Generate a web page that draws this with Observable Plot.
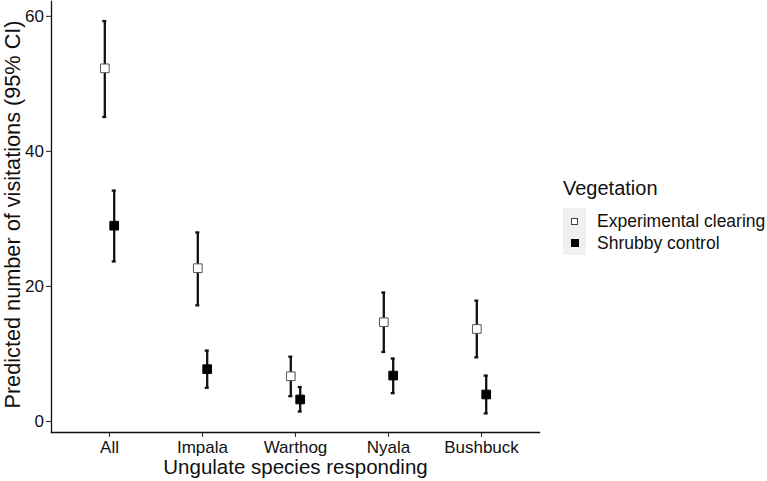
<!DOCTYPE html>
<html><head><meta charset="utf-8">
<script src="https://cdn.jsdelivr.net/npm/d3@7"></script>
<script src="https://cdn.jsdelivr.net/npm/@observablehq/plot@0.6"></script>
<style>
body{margin:0;background:#fff;font-family:"Liberation Sans",Arial,sans-serif;}
#wrap{position:relative;width:767px;height:481px;overflow:hidden;}
#wrap svg{position:absolute;left:0;top:0;}
.lg-title{position:absolute;left:563px;top:176px;font-size:20px;color:#111;white-space:nowrap;line-height:24px;}
.lg-bg{position:absolute;left:563px;top:208px;width:23px;height:47px;background:#f0f0f0;}
.lg-key{position:absolute;box-sizing:border-box;}
.lg-text{position:absolute;left:597px;font-size:17.5px;color:#111;white-space:nowrap;line-height:20px;}
</style></head><body><div id="wrap"></div>
<script>
const species = ["All", "Impala", "Warthog", "Nyala", "Bushbuck"];
const vegetation = ["Experimental clearing", "Shrubby control"];
const clearingMean  = [52.3, 22.7, 6.7, 14.7, 13.7];
const clearingLower = [45.1, 17.2, 3.75, 10.3, 9.5];
const clearingUpper = [59.3, 28.0, 9.6, 19.1, 17.9];
const controlMean   = [29.0, 7.75, 3.26, 6.8, 4.0];
const controlLower  = [23.7, 5.0, 1.48, 4.2, 1.2];
const controlUpper  = [34.2, 10.5, 5.1, 9.33, 6.8];
const yTicks = [0, 20, 40, 60];
const xTitle = "Ungulate species responding";
const yTitle = "Predicted number of visitations (95% CI)";
const legendTitle = "Vegetation";

const clearing = species.map((s, i) => ({species: s, veg: vegetation[0], mean: clearingMean[i], lower: clearingLower[i], upper: clearingUpper[i]}));
const control = species.map((s, i) => ({species: s, veg: vegetation[1], mean: controlMean[i], lower: controlLower[i], upper: controlUpper[i]}));

const dodge = 4.7;
const barW = 2.3;
const ink = "#111";

function series(rows, dx, fill, stroke) {
  return [
    Plot.ruleX(rows, {x: "species", y1: "lower", y2: "upper", dx, stroke: ink, strokeWidth: barW}),
    Plot.tickY(rows, {x: "species", y: "lower", dx, stroke: ink, strokeWidth: barW}),
    Plot.tickY(rows, {x: "species", y: "upper", dx, stroke: ink, strokeWidth: barW}),
    Plot.dot(rows, {x: "species", y: "mean", dx, symbol: "square", r: 4.9, fill, stroke, strokeWidth: 1})
  ];
}

const chart = Plot.plot({
  width: 767,
  height: 481,
  marginLeft: 51,
  marginRight: 228,
  marginTop: 1,
  marginBottom: 49,
  style: {fontFamily: "'Liberation Sans', Arial, sans-serif", color: ink, background: "white"},
  x: {type: "band", domain: species, paddingInner: 0.957, paddingOuter: 0.578, axis: null},
  y: {domain: [-1.63, 62.2], axis: null},
  marks: [
    Plot.axisY({ticks: yTicks, tickSize: 5, tickPadding: 2.5, fontSize: 17, label: null, stroke: "#333", strokeWidth: 1.1, fill: ink}),
    Plot.axisX({tickSize: 5, tickPadding: 3, fontSize: 17, label: null, stroke: "#333", strokeWidth: 1.1, fill: ink}),
    Plot.frame({anchor: "left", stroke: ink, strokeWidth: 1.3}),
    Plot.frame({anchor: "bottom", stroke: ink, strokeWidth: 1.3}),
    Plot.text([xTitle], {frameAnchor: "bottom", lineAnchor: "middle", textAnchor: "middle", dy: 35, fontSize: 20.5, fill: ink}),
    Plot.text([yTitle], {frameAnchor: "left", lineAnchor: "middle", textAnchor: "middle", dx: -38.5, dy: -2.5, rotate: -90, fontSize: 21.7, fill: ink}),
    ...series(clearing, -dodge, "white", "#555"),
    ...series(control, dodge, "#000", "#000")
  ]
});

const wrap = document.getElementById("wrap");
wrap.appendChild(chart);

// legend
const t = document.createElement("div");
t.className = "lg-title"; t.textContent = legendTitle; wrap.appendChild(t);
const bg = document.createElement("div"); bg.className = "lg-bg"; wrap.appendChild(bg);
const keys = [
  {cy: 221, size: 7, fill: "#fff", border: "1px solid #444"},
  {cy: 243, size: 8, fill: "#000", border: "1px solid #000"}
];
vegetation.forEach((v, i) => {
  const k = document.createElement("div");
  k.className = "lg-key";
  const s = keys[i].size;
  k.style.left = (574.5 - s / 2) + "px";
  k.style.top = (keys[i].cy - s / 2) + "px";
  k.style.width = s + "px"; k.style.height = s + "px";
  k.style.background = keys[i].fill; k.style.border = keys[i].border;
  wrap.appendChild(k);
  const tx = document.createElement("div");
  tx.className = "lg-text"; tx.textContent = v;
  tx.style.top = (keys[i].cy - 10) + "px";
  wrap.appendChild(tx);
});
</script></body></html>
